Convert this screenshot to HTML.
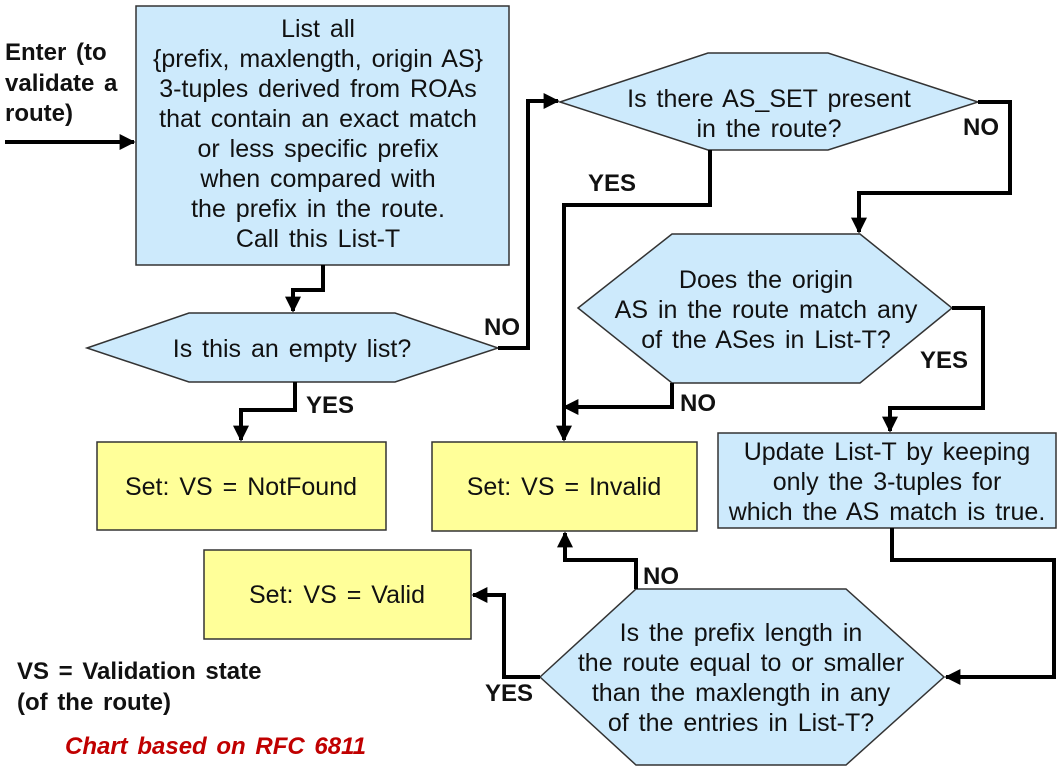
<!DOCTYPE html>
<html><head><meta charset="utf-8"><style>
html,body{margin:0;padding:0;background:#fff}
svg{display:block}
text{font-family:"Liberation Sans",Arial,sans-serif;fill:#111}
.t{font-size:25px;text-anchor:middle;word-spacing:3px}
.b{font-weight:bold;font-size:24px;word-spacing:3px}
</style></head><body>
<svg width="1064" height="772" viewBox="0 0 1064 772" xmlns="http://www.w3.org/2000/svg">
<defs><marker id="a" viewBox="0 0 10 10" refX="9" refY="5" markerWidth="4" markerHeight="4" orient="auto-start-reverse" markerUnits="strokeWidth"><path d="M0,0 L10,5 L0,10 z" fill="#000"/></marker></defs>
<g stroke="#333" stroke-width="1.5">
<rect x="136" y="6" width="373" height="259" fill="#cdeafc"/>
<polygon points="87,348 189,313 395,313 498,348 395,382 189,382" fill="#cdeafc"/>
<polygon points="560,102 708,53 828,53 978,102 828,150 708,150" fill="#cdeafc"/>
<polygon points="578,308 672,234 860,234 952,308 860,383 672,383" fill="#cdeafc"/>
<rect x="718" y="433" width="338" height="95" fill="#cdeafc"/>
<polygon points="540,677 636,589 846,589 944,677 846,765 636,765" fill="#cdeafc"/>
<rect x="97" y="442" width="289" height="88" fill="#ffff99"/>
<rect x="432" y="442" width="265" height="89" fill="#ffff99"/>
<rect x="204" y="550" width="267" height="89" fill="#ffff99"/>
</g>
<g stroke="#000" stroke-width="4" fill="none" marker-end="url(#a)">
<path d="M5,142 H134"/>
<path d="M323,265 V290 H293 V311"/>
<path d="M498,348 H528 V101 H558"/>
<path d="M295,382 V410 H241 V440"/>
<path d="M978,102 H1010 V193 H859 V232"/>
<path d="M710,150 V205 H564 V440"/>
<path d="M672,383 V407 H564"/>
<path d="M952,308 H983 V408 H890 V431"/>
<path d="M892,528 V560 H1054 V677 H946"/>
<path d="M636,589 V560 H565 V533"/>
<path d="M540,677 H504 V595 H473"/>
</g>
<g class="t">
<text x="318" y="37">List all</text>
<text x="318" y="67">{prefix, maxlength, origin AS}</text>
<text x="318" y="97">3-tuples derived from ROAs</text>
<text x="318" y="127">that contain an exact match</text>
<text x="318" y="157">or less specific prefix</text>
<text x="318" y="187">when compared with</text>
<text x="318" y="217">the prefix in the route.</text>
<text x="318" y="247">Call this List-T</text>
<text x="292" y="357">Is this an empty list?</text>
<text x="769" y="107">Is there AS_SET present</text>
<text x="769" y="137">in the route?</text>
<text x="766" y="288">Does the origin</text>
<text x="766" y="318">AS in the route match any</text>
<text x="766" y="348">of the ASes in List-T?</text>
<text x="887" y="460">Update List-T by keeping</text>
<text x="887" y="490">only the 3-tuples for</text>
<text x="887" y="520">which the AS match is true.</text>
<text x="241" y="495">Set: VS = NotFound</text>
<text x="564" y="495">Set: VS = Invalid</text>
<text x="337" y="603">Set: VS = Valid</text>
<text x="741" y="641">Is the prefix length in</text>
<text x="741" y="671">the route equal to or smaller</text>
<text x="741" y="701">than the maxlength in any</text>
<text x="741" y="731">of the entries in List-T?</text>
</g>
<g class="b">
<text x="5" y="60">Enter (to</text>
<text x="5" y="91">validate a</text>
<text x="5" y="121">route)</text>
<text x="484" y="335">NO</text>
<text x="306" y="413">YES</text>
<text x="963" y="135">NO</text>
<text x="588" y="191">YES</text>
<text x="920" y="368">YES</text>
<text x="680" y="411">NO</text>
<text x="643" y="584">NO</text>
<text x="485" y="701">YES</text>
<text x="17" y="679">VS = Validation state</text>
<text x="17" y="710">(of the route)</text>
<text x="65" y="754" style="fill:#c00000;font-style:italic">Chart based on RFC 6811</text>
</g>
</svg>
</body></html>
